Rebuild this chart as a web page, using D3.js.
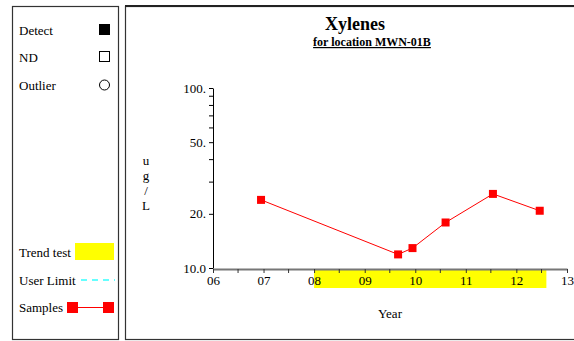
<!DOCTYPE html>
<html>
<head>
<meta charset="utf-8">
<script src="https://cdn.jsdelivr.net/npm/d3@7"></script>
<style>
  body { margin: 0; background: #fff; }
  svg { display: block; font-family: "Liberation Serif", "Times New Roman", serif; }
</style>
</head>
<body>
<div id="chart"></div>
<script>
// Sample data
const sampleDates = ['2006-12-14', '2009-08-30', '2009-12-12', '2010-08-08', '2011-07-16', '2012-06-18'];
const sampleValues = [23.9, 11.9, 12.9, 17.9, 25.8, 20.8];
const trendRange = ['2008-01-01', '2012-08-05'];
const yTickValues = [10, 20, 50, 100];
const yTickLabels = ['10.0', '20.', '50.', '100.'];
const yMinorValues = [30, 40, 60, 70, 80, 90];
const legendTop = ['Detect', 'ND', 'Outlier'];
const legendBottom = ['Trend test', 'User Limit', 'Samples'];

const W = 574, H = 341;
const parse = d3.timeParse('%Y-%m-%d');
const samples = sampleDates.map((d, i) => ({ date: parse(d), value: sampleValues[i] }));

const svg = d3.select('#chart').append('svg')
    .attr('width', W)
    .attr('height', H);

// Panels
svg.append('rect')
    .attr('x', 12.5).attr('y', 6.5)
    .attr('width', 106).attr('height', 333)
    .attr('fill', 'none').attr('stroke', '#333').attr('stroke-width', 1.2);
svg.append('rect')
    .attr('x', 125.5).attr('y', 6.5)
    .attr('width', 460).attr('height', 333)
    .attr('fill', 'none').attr('stroke', '#333').attr('stroke-width', 1.2);
svg.append('line')
    .attr('x1', 125).attr('x2', W).attr('y1', 6).attr('y2', 6)
    .attr('stroke', '#222').attr('stroke-width', 2);

// Legend - top
const topG = svg.append('g').style('font-size', '13px');
topG.selectAll('text').data(legendTop).enter().append('text')
    .attr('x', 19)
    .attr('y', (d, i) => [35, 62, 90][i])
    .text(d => d);
topG.append('rect').attr('x', 99).attr('y', 24).attr('width', 11).attr('height', 11).attr('fill', '#000');
topG.append('rect').attr('x', 99.5).attr('y', 51.5).attr('width', 10).attr('height', 10)
    .attr('fill', 'none').attr('stroke', '#000');
topG.append('circle').attr('cx', 104.5).attr('cy', 85).attr('r', 5)
    .attr('fill', 'none').attr('stroke', '#000');

// Legend - bottom
const botG = svg.append('g').style('font-size', '13px');
botG.selectAll('text').data(legendBottom).enter().append('text')
    .attr('x', 19)
    .attr('y', (d, i) => [257, 285, 312][i])
    .text(d => d);
botG.append('rect').attr('x', 75).attr('y', 243).attr('width', 39).attr('height', 17).attr('fill', '#ffff00');
botG.append('line').attr('x1', 81).attr('x2', 115).attr('y1', 280).attr('y2', 280)
    .attr('stroke', '#66ffff').attr('stroke-width', 2).attr('stroke-dasharray', '6,5');
botG.append('line').attr('x1', 72).attr('x2', 108).attr('y1', 307.5).attr('y2', 307.5)
    .attr('stroke', '#ff0000').attr('stroke-width', 1);
botG.append('rect').attr('x', 67).attr('y', 302).attr('width', 11).attr('height', 11).attr('fill', '#ff0000');
botG.append('rect').attr('x', 103).attr('y', 302).attr('width', 11).attr('height', 11).attr('fill', '#ff0000');

// Title
svg.append('text')
    .attr('x', 355).attr('y', 30)
    .attr('text-anchor', 'middle')
    .style('font-size', '18px').style('font-weight', 'bold')
    .text('Xylenes');
svg.append('text')
    .attr('x', 372).attr('y', 46)
    .attr('text-anchor', 'middle')
    .style('font-size', '12px').style('font-weight', 'bold')
    .style('text-decoration', 'underline')
    .text('for location MWN-01B');

// Scales
const x = d3.scaleTime()
    .domain([parse('2006-01-01'), parse('2013-01-01')])
    .range([213, 567]);
const y = d3.scaleLog()
    .domain([10, 100])
    .range([268, 88]);

// Trend test band
svg.append('rect')
    .attr('x', x(parse(trendRange[0])))
    .attr('y', 269)
    .attr('width', x(parse(trendRange[1])) - x(parse(trendRange[0])))
    .attr('height', 19)
    .attr('fill', '#ffff00');

// X axis
const xAxis = svg.append('g')
    .attr('transform', 'translate(0,269)')
    .call(d3.axisBottom(x)
        .ticks(d3.timeYear.every(1))
        .tickFormat(d3.timeFormat('%y'))
        .tickSize(4)
        .tickSizeOuter(0)
        .tickPadding(3));
xAxis.select('.domain').attr('stroke', '#777').attr('stroke-width', 2);
xAxis.selectAll('text')
    .style('font-family', '"Liberation Serif", "Times New Roman", serif')
    .style('font-size', '13px').attr('fill', '#000');
xAxis.selectAll('.tick line').attr('stroke', '#333');
const halfYears = d3.timeYear.range(parse('2006-01-01'), parse('2013-01-01'))
    .map(d => d3.timeMonth.offset(d, 6));
svg.append('g').selectAll('line').data(halfYears).enter().append('line')
    .attr('x1', d => x(d)).attr('x2', d => x(d))
    .attr('y1', 269).attr('y2', 273)
    .attr('stroke', '#333');

// Y axis
const yAxis = svg.append('g')
    .attr('transform', 'translate(213,0)')
    .call(d3.axisLeft(y)
        .tickValues(yTickValues)
        .tickFormat((d, i) => yTickLabels[i])
        .tickSize(4)
        .tickSizeOuter(0)
        .tickPadding(3));
yAxis.select('.domain').attr('stroke', '#000');
yAxis.selectAll('text')
    .style('font-family', '"Liberation Serif", "Times New Roman", serif')
    .style('font-size', '13px').attr('fill', '#000');
svg.append('g').selectAll('line').data(yMinorValues).enter().append('line')
    .attr('x1', 209).attr('x2', 213)
    .attr('y1', d => y(d)).attr('y2', d => y(d))
    .attr('stroke', '#000');

// Axis titles
svg.append('g').style('font-size', '13px')
    .selectAll('text').data(['u', 'g', '/', 'L']).enter().append('text')
    .attr('x', 146).attr('text-anchor', 'middle')
    .attr('y', (d, i) => 165 + i * 15)
    .text(d => d);
svg.append('text')
    .attr('x', 390).attr('y', 318)
    .attr('text-anchor', 'middle')
    .style('font-size', '13px')
    .text('Year');

// Samples
const line = d3.line()
    .x(d => x(d.date))
    .y(d => y(d.value));
svg.append('path')
    .datum(samples)
    .attr('d', line)
    .attr('fill', 'none')
    .attr('stroke', '#ff0000')
    .attr('stroke-width', 1);
svg.append('g').selectAll('rect').data(samples).enter().append('rect')
    .attr('x', d => x(d.date) - 4)
    .attr('y', d => y(d.value) - 4)
    .attr('width', 8).attr('height', 8)
    .attr('fill', '#ff0000');
</script>
</body>
</html>
